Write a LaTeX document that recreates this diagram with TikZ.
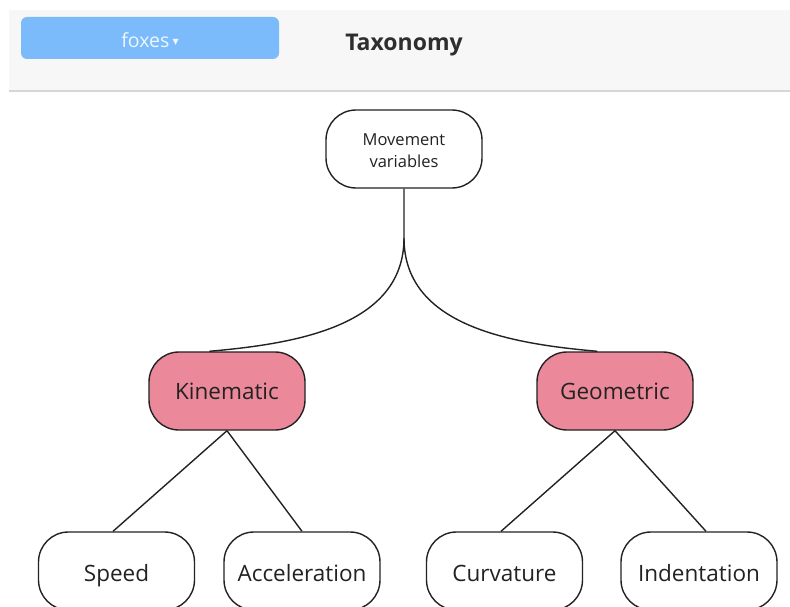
\documentclass[tikz,border=0pt]{standalone}
\usepackage{fontspec}
\setmainfont{Open Sans}
\newfontfamily\symfont{DejaVu Sans}
\usepackage{tikz}
\usetikzlibrary{positioning}
\definecolor{headerbg}{HTML}{F7F7F7}
\definecolor{headerline}{HTML}{D6D6D6}
\definecolor{buttonblue}{HTML}{7BBBFC}
\definecolor{buttontext}{HTML}{EEF6FF}
\definecolor{titledark}{HTML}{2E2E2E}
\definecolor{categorypink}{HTML}{EB899B}
\definecolor{edgedark}{HTML}{222222}

\begin{document}
\begin{tikzpicture}[
    x=1pt,
    y=-1pt,
    every node/.style={font=\fontsize{22.5}{26}\selectfont, text=edgedark},
    taxbox/.style={
        rectangle,
        rounded corners=30pt,
        minimum width=156pt,
        minimum height=78pt,
        draw=edgedark,
        line width=1.4pt,
        fill=white,
        align=center,
        inner sep=0pt
    },
    leafbox/.style={
        taxbox,
        text height=20pt,
        text depth=0pt
    },
    catbox/.style={
        taxbox,
        text height=19pt,
        text depth=3pt,
        fill=categorypink
    },
    branch/.style={draw=edgedark, line width=1.4pt}
]
    \useasboundingbox (0,0) rectangle (790,607);

    % === HEADER BAR ===
    \fill[headerbg] (9,10) rectangle (790,91);
    \draw[headerline, line width=1.5pt] (9,91) -- (790,91);
    \node[rectangle, rounded corners=6pt, fill=buttonblue, minimum width=258pt,
          minimum height=42pt, inner sep=0pt] (menu) at (150,38) {};
    \node[text=buttontext, font=\fontsize{19.5}{22}\selectfont] (menulabel) at (150,40)
        {foxes\,\raisebox{3pt}{\symfont\fontsize{8}{10}\selectfont ▼}};
    \node[text=titledark, font=\fontsize{23}{26}\selectfont\bfseries] (title) at (404,45) {Taxonomy};

    % === ROOT ===
    \node[taxbox, font=\fontsize{16.5}{22}\selectfont, text height=38pt, text depth=1pt]
        (root) at (404,149) {Movement\\variables};
    \coordinate (fork) at (404,238);

    % === CATEGORIES ===
    \node[catbox] (kinematic) at (227,391) {Kinematic};
    \node[catbox] (geometric) at (615,391) {Geometric};

    % === VARIABLES ===
    \node[leafbox] (speed) at (116.5,571) {Speed};
    \node[leafbox] (acceleration) at (302,571) {Acceleration};
    \node[leafbox] (curvature) at (504.5,571) {Curvature};
    \node[leafbox] (indentation) at (699,571) {Indentation};

    % === BRANCHES ===
    \draw[branch] (root.south) -- (fork) to[out=-90, in=5] (kinematic.114);
    \draw[branch] (fork) to[out=-90, in=175] (geometric.114);
    \draw[branch] (kinematic.south) -- (speed.95);
    \draw[branch] (kinematic.south) -- (acceleration.north);
    \draw[branch] (geometric.south) -- (curvature.95);
    \draw[branch] (geometric.south) -- (indentation.80);
\end{tikzpicture}
\end{document}
